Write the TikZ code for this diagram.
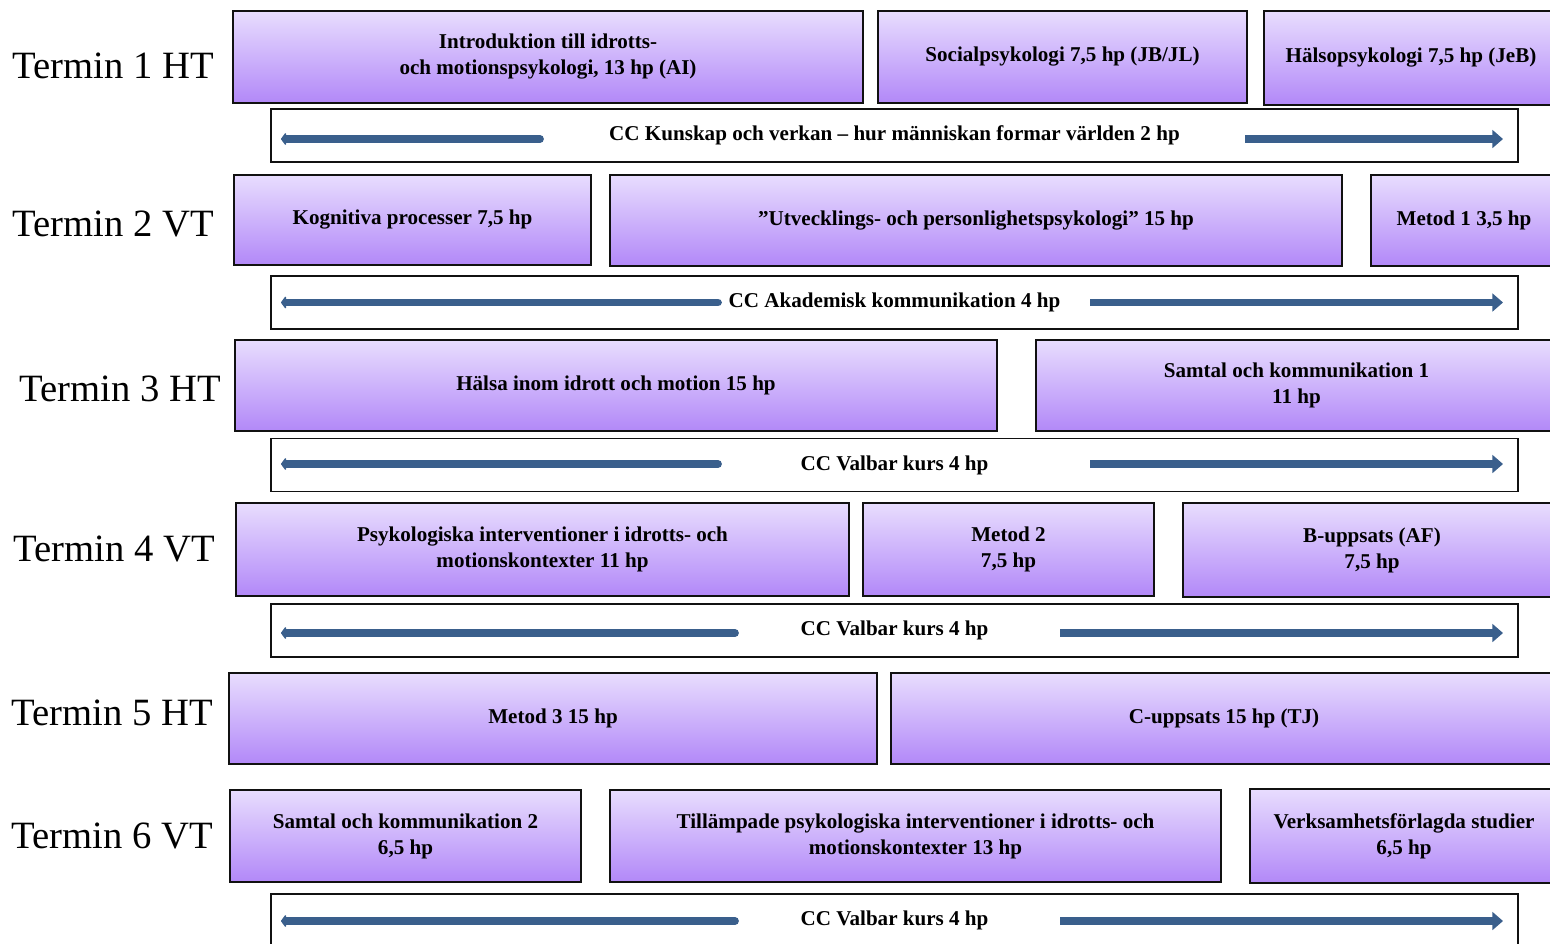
\documentclass[tikz,border=0pt]{standalone}
\usepackage{fontspec}
\setmainfont{Liberation Serif}
\usepackage{xcolor}
\usepackage{tikz}
\usetikzlibrary{arrows.meta}
\definecolor{Ink}{HTML}{111111}
\definecolor{LilacTop}{HTML}{E8DDFE}
\definecolor{LilacBottom}{HTML}{B288F8}
\definecolor{ArrowBlue}{HTML}{3A5F8C}

\begin{document}
\begin{tikzpicture}[x=0.02cm,y=-0.02cm,
  term/.style={font=\fontsize{22}{26}\selectfont},
  course/.style={draw=Ink,line width=1.1pt,top color=LilacTop,bottom color=LilacBottom,align=center,font=\fontsize{12}{14.8}\selectfont\bfseries,inner sep=0pt},
  ccbox/.style={draw=Ink,line width=1.1pt,fill=white,minimum width=24.94cm,minimum height=1.06cm,font=\fontsize{12}{14}\selectfont\bfseries},
  ccarrow/.style={draw=ArrowBlue,line width=4.4pt}
]
  \clip (0,0) rectangle (1550,943);
  % semester labels
  \node[term] (t1) at (113,66) {Termin 1 HT};
  \node[term] (t2) at (113,224) {Termin 2 VT};
  \node[term] (t3) at (120,389) {Termin 3 HT};
  \node[term] (t4) at (114,549) {Termin 4 VT};
  \node[term] (t5) at (112,713) {Termin 5 HT};
  \node[term] (t6) at (112,836) {Termin 6 VT};
  % termin 1
  \node[course,minimum width=12.6cm,minimum height=1.84cm] (intro) at (548,57) {Introduktion till idrotts-\\och motionspsykologi, 13 hp (AI)};
  \node[course,minimum width=7.38cm,minimum height=1.84cm] (social) at (1062.5,57) {Socialpsykologi 7,5 hp (JB/JL)};
  \node[course,minimum width=5.88cm,minimum height=1.88cm] (halso) at (1411,58) {Hälsopsykologi 7,5 hp (JeB)};
  % termin 2
  \node[course,minimum width=7.14cm,minimum height=1.80cm] (kog) at (412.5,220) {Kognitiva processer 7,5 hp};
  \node[course,minimum width=14.64cm,minimum height=1.82cm] (utv) at (976,220.5) {”Utvecklings- och personlighetspsykologi” 15 hp};
  \node[course,minimum width=3.72cm,minimum height=1.82cm] (met1) at (1464,220.5) {Metod 1 3,5 hp};
  % termin 3
  \node[course,minimum width=15.24cm,minimum height=1.82cm] (halsa) at (616,385.5) {Hälsa inom idrott och motion 15 hp};
  \node[course,minimum width=10.42cm,minimum height=1.82cm] (samt1) at (1296.5,385.5) {Samtal och kommunikation 1\\11 hp};
  % termin 4
  \node[course,minimum width=12.26cm,minimum height=1.86cm] (interv) at (542.5,549.5) {Psykologiska interventioner i idrotts- och\\motionskontexter 11 hp};
  \node[course,minimum width=5.82cm,minimum height=1.86cm] (met2) at (1008.5,549.5) {Metod 2\\7,5 hp};
  \node[course,minimum width=7.56cm,minimum height=1.88cm] (buppsats) at (1372,550) {B-uppsats (AF)\\7,5 hp};
  % termin 5
  \node[course,minimum width=12.96cm,minimum height=1.82cm] (met3) at (553,718.5) {Metod 3 15 hp};
  \node[course,minimum width=13.32cm,minimum height=1.82cm] (cuppsats) at (1224,718.5) {C-uppsats 15 hp (TJ)};
  % termin 6
  \node[course,minimum width=7.02cm,minimum height=1.84cm] (samt2) at (405.5,836) {Samtal och kommunikation 2\\6,5 hp};
  \node[course,minimum width=12.22cm,minimum height=1.84cm] (tillamp) at (915.5,836) {Tillämpade psykologiska interventioner i idrotts- och\\motionskontexter 13 hp};
  \node[course,minimum width=6.16cm,minimum height=1.88cm] (vfu) at (1404,836) {Verksamhetsförlagda studier\\6,5 hp};
  % cc courses
  \foreach \n/\yc/\ya/\la/\ra/\txt in {
      1/135.5/139/540/1245/{CC Kunskap och verkan – hur människan formar världen 2 hp},
      2/302.5/302.5/718/1090/{CC Akademisk kommunikation 4 hp},
      3/465/464/718/1090/{CC Valbar kurs 4 hp},
      4/630.5/633/735/1060/{CC Valbar kurs 4 hp},
      6/920.5/921/735/1060/{CC Valbar kurs 4 hp}} {
    \node[ccbox] (cc\n) at (894.5,\yc) {\txt};
    \coordinate (cc\n l1) at (\la,\ya);
    \coordinate (cc\n l2) at (281,\ya);
    \coordinate (cc\n r1) at (\ra,\ya);
    \coordinate (cc\n r2) at (1503,\ya);
    \draw[ccarrow,line cap=round,-{Triangle[round,length=3pt,width=8pt]}] (cc\n l1) -- (cc\n l2);
    \draw[ccarrow,-{Triangle[length=6pt,width=10pt]}] (cc\n r1) -- (cc\n r2);
  }
\end{tikzpicture}
\end{document}
